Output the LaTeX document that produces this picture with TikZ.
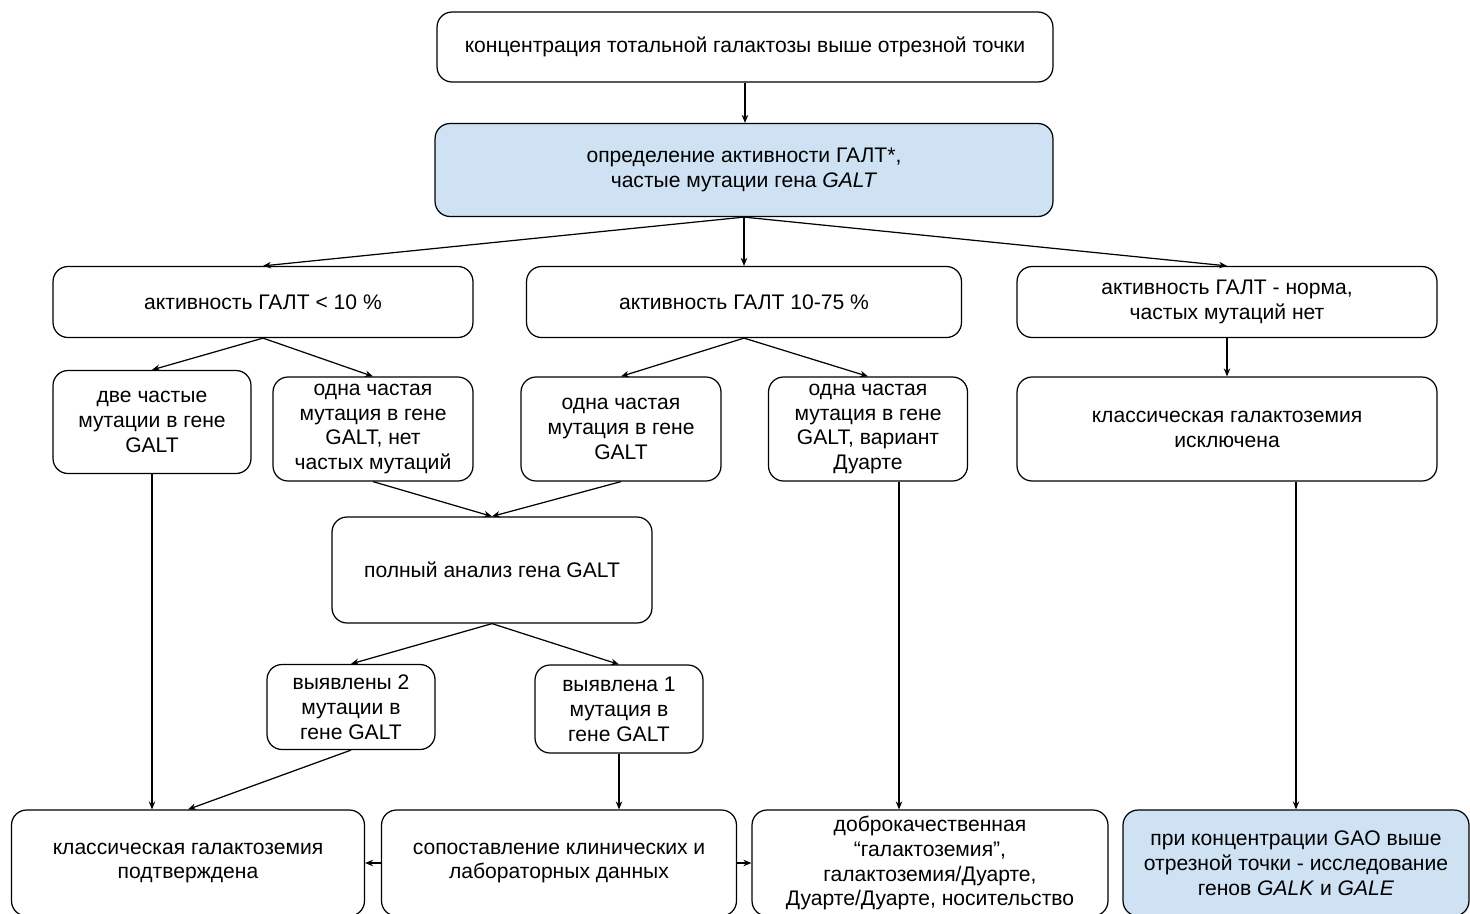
\documentclass[tikz,border=0pt]{standalone}
\usepackage{fontspec}
\setmainfont{Liberation Sans}
\usetikzlibrary{arrows.meta}
\definecolor{paleblue}{RGB}{207,226,243}
\tikzset{box/.style={draw, line width=0.7pt, rounded corners=0.3cm, align=center,
         inner sep=0pt, font=\fontsize{12}{14.2}\selectfont},
         arr/.style={-{Stealth[length=1.6mm,width=1.3mm]}, line width=0.7pt}}

\begin{document}
\begin{tikzpicture}[x=0.02cm, y=-0.02cm]
  \useasboundingbox (0,0) rectangle (1470,913);
  % top
  \node[box, minimum width=12.32cm, minimum height=1.4cm] (top) at (745,47)
    {концентрация тотальной галактозы выше отрезной точки};
  \node[box, fill=paleblue, minimum width=12.36cm, minimum height=1.86cm] (blue) at (744,170)
    {определение активности ГАЛТ*,\\ частые мутации гена \textit{GALT}};
  % activity level
  \node[box, minimum width=8.4cm, minimum height=1.42cm] (lA) at (263,302)
    {активность ГАЛТ < 10 \%};
  \node[box, minimum width=8.7cm, minimum height=1.42cm] (lB) at (744,302)
    {активность ГАЛТ 10-75 \%};
  \node[box, minimum width=8.4cm, minimum height=1.42cm] (lC) at (1227,302)
    {активность ГАЛТ - норма,\\ частых мутаций нет};
  % mutations
  \node[box, minimum width=3.96cm, minimum height=2.06cm] (r2a) at (152,422)
    {две частые\\ мутации в гене\\ GALT};
  \node[box, minimum width=4cm, minimum height=2.08cm] (r2b) at (373,429)
    {одна частая\\ мутация в гене\\ GALT, нет\\ частых мутаций};
  \node[box, minimum width=4cm, minimum height=2.08cm] (r2c) at (621,429)
    {одна частая\\ мутация в гене\\ GALT};
  \node[box, minimum width=3.98cm, minimum height=2.08cm] (r2d) at (868,429)
    {одна частая\\ мутация в гене\\ GALT, вариант\\ Дуарте};
  \node[box, minimum width=8.4cm, minimum height=2.08cm] (r2e) at (1227,429)
    {классическая галактоземия\\ исключена};
  % full analysis
  \node[box, minimum width=6.4cm, minimum height=2.12cm] (full) at (492,570)
    {полный анализ гена GALT};
  \node[box, minimum width=3.36cm, minimum height=1.7cm] (r4a) at (351,707)
    {выявлены 2\\ мутации в\\ гене GALT};
  \node[box, minimum width=3.36cm, minimum height=1.76cm] (r4b) at (619,709)
    {выявлена 1\\ мутация в\\ гене GALT};
  % outcomes
  \node[box, minimum width=7.06cm, minimum height=2.12cm] (b1) at (188,863)
    {классическая галактоземия\\ подтверждена};
  \node[box, minimum width=7.1cm, minimum height=2.12cm] (b2) at (559,863)
    {сопоставление клинических и\\ лабораторных данных};
  \node[box, minimum width=7.12cm, minimum height=2.12cm] (b3) at (930,863)
    {доброкачественная\\ “галактоземия”,\\ галактоземия/Дуарте,\\ Дуарте/Дуарте, носительство};
  \node[box, fill=paleblue, minimum width=6.92cm, minimum height=2.12cm] (b4) at (1296,863)
    {при концентрации GAO выше\\ отрезной точки - исследование\\ генов \textit{GALK} и \textit{GALE}};

  \draw[arr] (top.south) -- (top.south |- blue.north);
  \draw[arr] (blue.south) -- (lA.north);
  \draw[arr] (blue.south) -- (lB.north);
  \draw[arr] (blue.south) -- (lC.north);
  \draw[arr] (lA.south) -- (r2a.north);
  \draw[arr] (lA.south) -- (r2b.north);
  \draw[arr] (lB.south) -- (r2c.north);
  \draw[arr] (lB.south) -- (r2d.north);
  \draw[arr] (lC.south) -- (r2e.north);
  \draw[arr] (r2b.south) -- (full.north);
  \draw[arr] (r2c.south) -- (full.north);
  \draw[arr] (full.south) -- (r4a.north);
  \draw[arr] (full.south) -- (r4b.north);
  \draw[arr] (r2a.south) -- (r2a.south |- b1.north);
  \draw[arr] (r4a.south) -- (b1.north);
  \draw[arr] (r4b.south) -- (r4b.south |- b2.north);
  \draw[arr] (r2d.south -| 899,0) -- (b3.north -| 899,0);
  \draw[arr] (r2e.south -| b4.north) -- (b4.north);
  \draw[arr] (b2.west) -- (b1.east);
  \draw[arr] (b2.east) -- (b3.west);
\end{tikzpicture}
\end{document}
